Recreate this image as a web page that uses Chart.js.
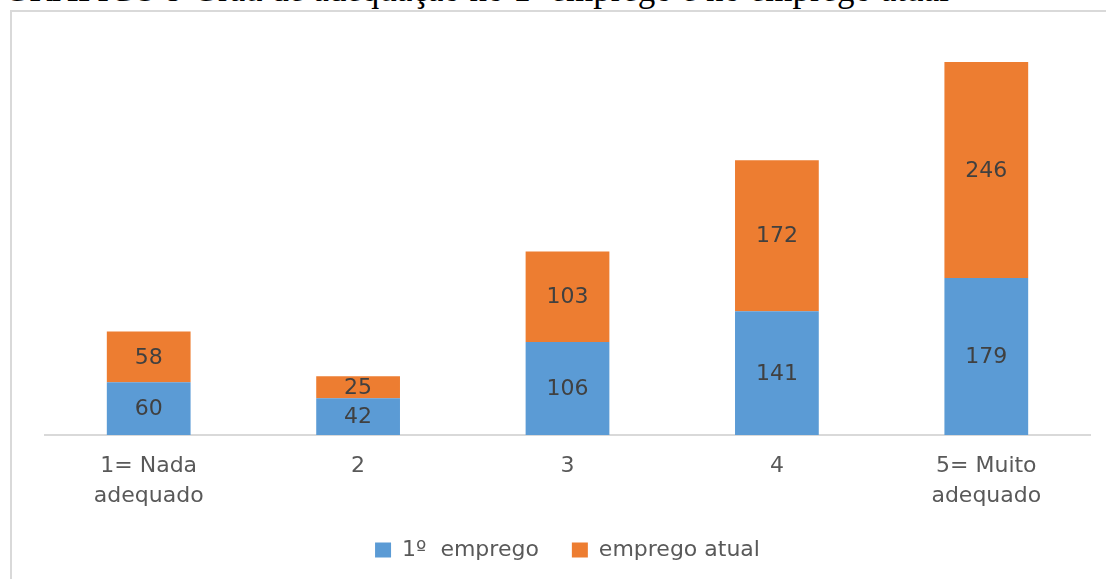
<!DOCTYPE html>
<html>
<head>
<meta charset="utf-8">
<script src="https://cdn.jsdelivr.net/npm/chart.js@4.4.1/dist/chart.umd.min.js"></script>
<style>
  html, body { margin: 0; padding: 0; background: #ffffff; overflow: hidden; }
  #wrap { position: relative; width: 1106px; height: 579px; overflow: hidden; }
  #caption {
    position: absolute; left: 4px; top: -28px; white-space: nowrap;
    font-family: "Liberation Serif", "Times New Roman", serif; font-size: 35px; line-height: 35px; color: #000;
  }
  #frame {
    position: absolute; left: 10px; top: 10px; width: 1200px; height: 700px;
    border-left: 2px solid #d9d9d9; border-top: 2px solid #d9d9d9;
  }
  #chartBox { position: absolute; left: 0; top: 0; width: 1106px; height: 579px; }
</style>
</head>
<body>
<div id="wrap">
  <div id="caption">GRÁFICO 9 Grau de adequação no 1º emprego e no emprego atual</div>
  <div id="frame"></div>
  <div id="chartBox"><canvas id="c" width="1106" height="579"></canvas></div>
</div>
<script>
const categories = [["1= Nada", "adequado"], "2", "3", "4", ["5= Muito", "adequado"]];
const seriesNames = ["1º  emprego", "emprego atual"];
const primeiroEmprego = [60, 42, 106, 141, 179];
const empregoAtual = [58, 25, 103, 172, 246];

const FONT = '"DejaVu Sans", "Noto Sans", sans-serif';

// Writes each segment's value in the middle of its bar piece
const segmentLabels = {
  id: 'segmentLabels',
  afterDatasetsDraw(chart) {
    const ctx = chart.ctx;
    ctx.save();
    ctx.font = '22px ' + FONT;
    ctx.fillStyle = '#404040';
    ctx.textAlign = 'center';
    ctx.textBaseline = 'middle';
    chart.data.datasets.forEach((ds, i) => {
      chart.getDatasetMeta(i).data.forEach((bar, j) => {
        const mid = (bar.y + bar.base) / 2;
        ctx.fillText(String(ds.data[j]), bar.x, mid + 1);
      });
    });
    ctx.restore();
  }
};

// Thin light-grey category axis line along the plot bottom
const baseLine = {
  id: 'baseLine',
  beforeDatasetsDraw(chart) {
    const { ctx, chartArea } = chart;
    ctx.save();
    ctx.strokeStyle = '#d9d9d9';
    ctx.lineWidth = 2;
    ctx.beginPath();
    ctx.moveTo(chartArea.left, chartArea.bottom);
    ctx.lineTo(chartArea.right, chartArea.bottom);
    ctx.stroke();
    ctx.restore();
  }
};

new Chart(document.getElementById('c'), {
  type: 'bar',
  data: {
    labels: categories,
    datasets: [
      { label: seriesNames[0], data: primeiroEmprego, backgroundColor: '#5b9bd5' },
      { label: seriesNames[1], data: empregoAtual, backgroundColor: '#ed7d31' }
    ]
  },
  options: {
    responsive: false,
    animation: false,
    devicePixelRatio: 1,
    layout: { padding: { left: 44, right: 15, top: 40, bottom: 8 } },
    datasets: { bar: { categoryPercentage: 1.0, barPercentage: 0.4 } },
    plugins: {
      legend: {
        position: 'bottom',
        labels: {
          font: { family: FONT, size: 22 },
          color: '#595959',
          boxWidth: 16, boxHeight: 15,
          padding: 33
        }
      },
      tooltip: { enabled: false },
      title: { display: false }
    },
    scales: {
      x: {
        stacked: true,
        grid: { display: false, drawTicks: false },
        border: { display: false },
        ticks: {
          font: { family: FONT, size: 22, lineHeight: 1.3636 },
          color: '#595959',
          padding: 16,
          maxRotation: 0
        },
        afterFit(scale) { scale.height -= 21; }
      },
      y: {
        stacked: true,
        display: false,
        min: 0,
        max: 450
      }
    }
  },
  plugins: [segmentLabels, baseLine]
});
</script>
</body>
</html>
